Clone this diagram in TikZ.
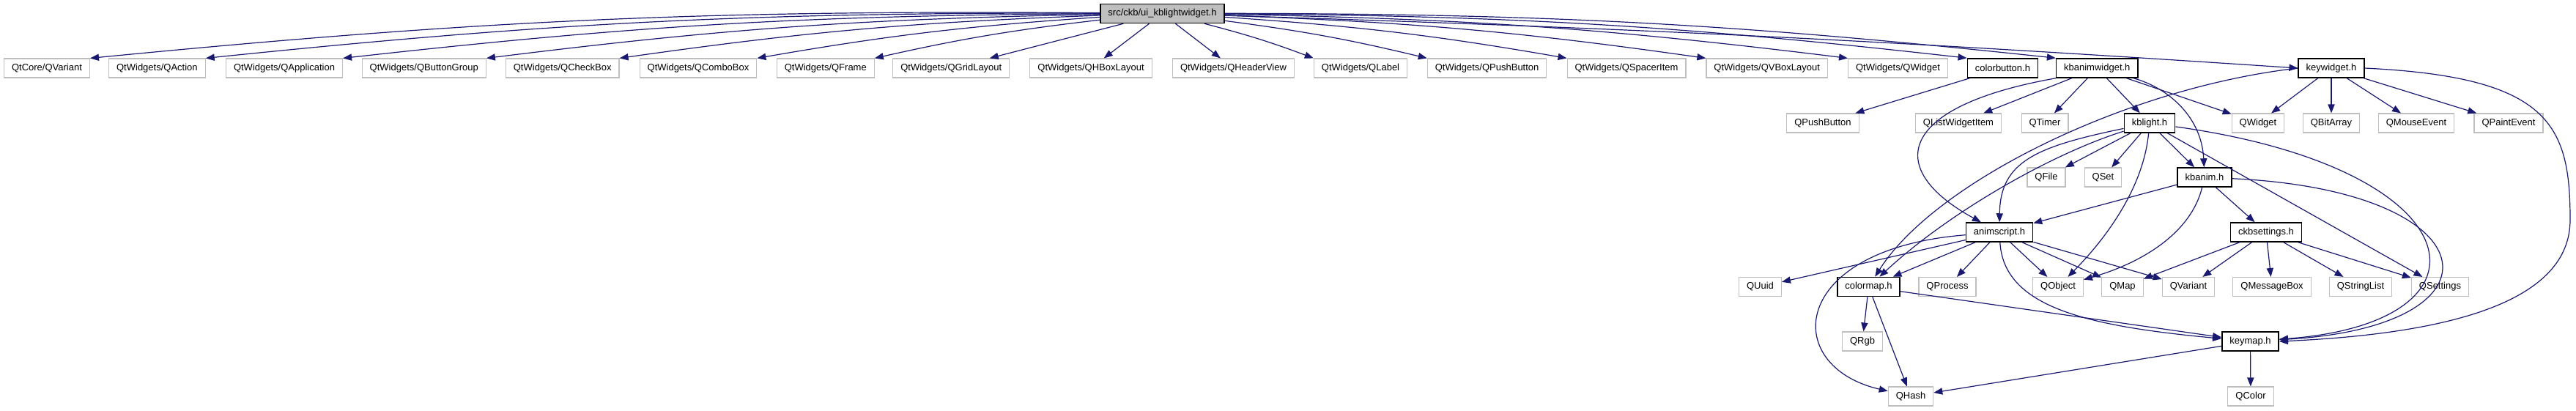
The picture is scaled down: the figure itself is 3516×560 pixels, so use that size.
\documentclass[tikz,border=0pt]{standalone}
\usepackage{fontspec}
\setmainfont{Liberation Sans}
\usetikzlibrary{arrows.meta}
\definecolor{EdgeBlue}{RGB}{25,25,112}
\definecolor{BoxGray}{RGB}{191,191,191}

\begin{document}
\begin{tikzpicture}[x=0.25pt, y=-0.25pt, every node/.style={font=\fontsize{3.25}{3.75}\selectfont,minimum height=6.5pt,inner xsep=2.625pt,inner ysep=0pt}, ext/.style={draw=BoxGray,line width=0.28pt,fill=white}, hdr/.style={draw=black,line width=0.38pt,fill=white}, rootbox/.style={draw=black,line width=0.38pt,fill=BoxGray}, dep/.style={-{Triangle[length=3pt,width=2.3pt]},draw=EdgeBlue,line width=0.3pt}]
\useasboundingbox (0,0) rectangle (3516,560);
\node[rootbox] (root) at (1586.5,18.5) {src/ckb/ui\_kblightwidget.h};
\node[ext] (qcvariant) at (64,93) {QtCore/QVariant};
\node[ext] (qaction) at (214.4,93) {QtWidgets/QAction};
\node[ext] (qapplication) at (388,93) {QtWidgets/QApplication};
\node[ext] (qbuttongroup) at (578.8,93) {QtWidgets/QButtonGroup};
\node[ext] (qcheckbox) at (767.7,93) {QtWidgets/QCheckBox};
\node[ext] (qcombobox) at (953,93) {QtWidgets/QComboBox};
\node[ext] (qframe) at (1126.8,93) {QtWidgets/QFrame};
\node[ext] (qgridlayout) at (1298.3,93) {QtWidgets/QGridLayout};
\node[ext] (qhboxlayout) at (1489,93) {QtWidgets/QHBoxLayout};
\node[ext] (qheaderview) at (1683.5,93) {QtWidgets/QHeaderView};
\node[ext] (qlabel) at (1857,93) {QtWidgets/QLabel};
\node[ext] (qwpushbutton) at (2029.6,93) {QtWidgets/QPushButton};
\node[ext] (qspaceritem) at (2220,93) {QtWidgets/QSpacerItem};
\node[ext] (qvboxlayout) at (2411.7,93) {QtWidgets/QVBoxLayout};
\node[ext] (qwwidget) at (2590.5,93) {QtWidgets/QWidget};
\node[hdr] (colorbutton) at (2733.4,93) {colorbutton.h};
\node[hdr] (kbanimwidget) at (2862.3,93) {kbanimwidget.h};
\node[hdr] (keywidget) at (3182,93) {keywidget.h};
\node[ext] (qpushbutton) at (2488,168) {QPushButton};
\node[ext] (qlistwidgetitem) at (2673,168) {QListWidgetItem};
\node[ext] (qtimer) at (2791,168) {QTimer};
\node[hdr] (kblight) at (2934,168) {kblight.h};
\node[ext] (qwidget) at (3082,168) {QWidget};
\node[ext] (qbitarray) at (3182,168) {QBitArray};
\node[ext] (qmouseevent) at (3298,168) {QMouseEvent};
\node[ext] (qpaintevent) at (3424,168) {QPaintEvent};
\node[ext] (qfile) at (2793,242) {QFile};
\node[ext] (qset) at (2870.5,242) {QSet};
\node[hdr] (kbanim) at (3009,242) {kbanim.h};
\node[hdr] (animscript) at (2729,317) {animscript.h};
\node[hdr] (ckbsettings) at (3093,317) {ckbsettings.h};
\node[ext] (quuid) at (2402.5,391.5) {QUuid};
\node[hdr] (colormap) at (2550.5,391.5) {colormap.h};
\node[ext] (qprocess) at (2658,391.5) {QProcess};
\node[ext] (qobject) at (2809,391.5) {QObject};
\node[ext] (qmap) at (2897,391.5) {QMap};
\node[ext] (qvariant) at (2987,391.5) {QVariant};
\node[ext] (qmessagebox) at (3101,391.5) {QMessageBox};
\node[ext] (qstringlist) at (3222,391.5) {QStringList};
\node[ext] (qsettings) at (3330.5,391.5) {QSettings};
\node[ext] (qrgb) at (2542,466) {QRgb};
\node[hdr] (keymap) at (3071.5,466) {keymap.h};
\node[ext] (qhash) at (2608,541) {QHash};
\node[ext] (qcolor) at (3072,541) {QColor};
\draw[dep] (root) to[bend right=3] (qcvariant.north east);
\draw[dep] (root) to[bend right=3] (qaction.north east);
\draw[dep] (root) to[bend right=3] (qapplication.north east);
\draw[dep] (root) to[bend right=3] (qbuttongroup.north east);
\draw[dep] (root) to[bend right=3] (qcheckbox.north east);
\draw[dep] (root) to[bend right=3] (qcombobox.north east);
\draw[dep] (root) to[bend right=3] (qframe.north east);
\draw[dep] (root) -- (qgridlayout);
\draw[dep] (root) -- (qhboxlayout);
\draw[dep] (root) -- (qheaderview);
\draw[dep] (root) to[bend left=3] (qlabel.north west);
\draw[dep] (root) to[bend left=3] (qwpushbutton.north west);
\draw[dep] (root) to[bend left=3] (qspaceritem.north west);
\draw[dep] (root) to[bend left=3] (qvboxlayout.north west);
\draw[dep] (root) to[bend left=3] (qwwidget.north west);
\draw[dep] (root) to[bend left=3] (colorbutton.north west);
\draw[dep] (root) to[bend left=3] (kbanimwidget.north west);
\draw[dep] (root) to[bend left=1] (keywidget.west);
\draw[dep] (colorbutton) -- (qpushbutton);
\draw[dep] (kbanimwidget) -- (qlistwidgetitem);
\draw[dep] (kbanimwidget) -- (qtimer);
\draw[dep] (kbanimwidget) -- (kblight);
\draw[dep] (kbanimwidget) -- (qwidget);
\draw[dep] (kbanimwidget) .. controls (2960,120) and (3005,160) .. (kbanim);
\draw[dep] (kbanimwidget.south west) .. controls (2590,145) and (2570,230) .. (animscript);
\draw[dep] (keywidget) -- (qwidget);
\draw[dep] (keywidget) -- (qbitarray);
\draw[dep] (keywidget) -- (qmouseevent);
\draw[dep] (keywidget) -- (qpaintevent);
\draw[dep] (keywidget.west) .. controls (2900,120) and (2640,250) .. (colormap);
\draw[dep] (keywidget.east) .. controls (3480,105) and (3508,170) .. (3508,300) .. controls (3508,410) and (3350,455) .. (keymap.east);
\draw[dep] (kblight) -- (qfile);
\draw[dep] (kblight) -- (qset);
\draw[dep] (kblight) -- (kbanim);
\draw[dep] (kblight) .. controls (2925,260) and (2870,330) .. (qobject);
\draw[dep] (kblight) .. controls (2780,200) and (2730,220) .. (animscript);
\draw[dep] (kblight) .. controls (2800,210) and (2660,290) .. (colormap);
\draw[dep] (kblight) -- (qsettings);
\draw[dep] (kblight) .. controls (3380,230) and (3420,440) .. (keymap);
\draw[dep] (kbanim) -- (animscript);
\draw[dep] (kbanim) .. controls (2990,320) and (2920,360) .. (qobject);
\draw[dep] (kbanim) -- (ckbsettings);
\draw[dep] (kbanim) .. controls (3400,260) and (3430,445) .. (keymap);
\draw[dep] (animscript) -- (quuid);
\draw[dep] (animscript) .. controls (2440,340) and (2430,500) .. (qhash);
\draw[dep] (animscript) -- (colormap);
\draw[dep] (animscript) -- (qprocess);
\draw[dep] (animscript) -- (qobject);
\draw[dep] (animscript) -- (qmap);
\draw[dep] (animscript) -- (qvariant);
\draw[dep] (animscript) .. controls (2735,420) and (2850,445) .. (keymap);
\draw[dep] (ckbsettings) -- (qmap);
\draw[dep] (ckbsettings) -- (qvariant);
\draw[dep] (ckbsettings) -- (qmessagebox);
\draw[dep] (ckbsettings) -- (qstringlist);
\draw[dep] (ckbsettings) -- (qsettings);
\draw[dep] (colormap) -- (qrgb);
\draw[dep] (colormap) -- (qhash);
\draw[dep] (colormap) -- (keymap);
\draw[dep] (keymap) -- (qhash);
\draw[dep] (keymap) -- (qcolor);
\end{tikzpicture}
\end{document}
